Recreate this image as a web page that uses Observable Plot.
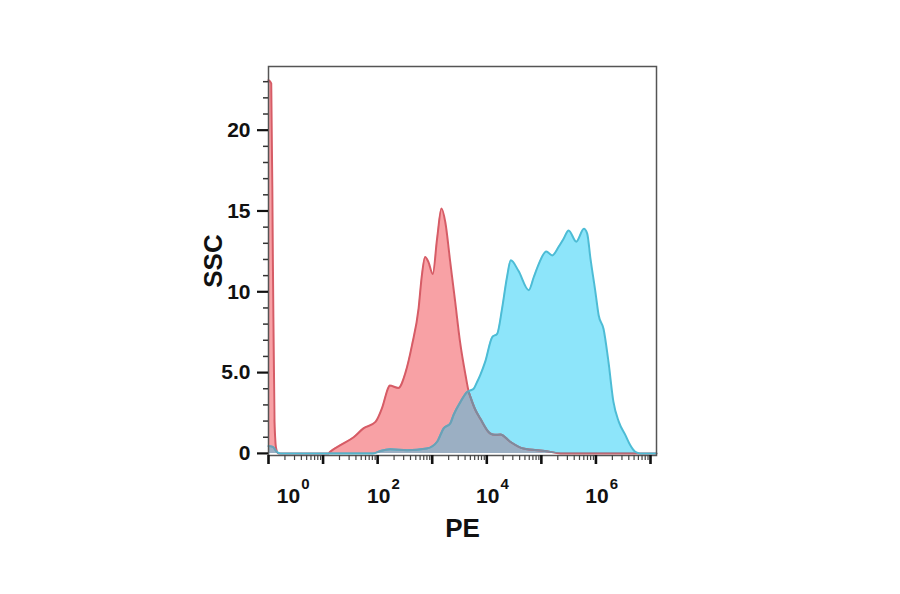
<!DOCTYPE html>
<html>
<head>
<meta charset="utf-8">
<script src="https://cdn.jsdelivr.net/npm/d3@7"></script>
<script src="https://cdn.jsdelivr.net/npm/@observablehq/plot@0.6"></script>
<style>
  html, body { margin: 0; padding: 0; background: #fff; }
  #chart { width: 900px; height: 594px; }
</style>
</head>
<body>
<div id="chart"></div>
<script>
// PE intensity, as log10 values, and SSC counts for the two histograms
const redLog = [0, 0.05, 0.08, 0.11, 0.14, 0.18, 1.10, 1.13, 1.31, 1.56, 1.74, 1.96, 2.08, 2.20, 2.22, 2.38, 2.51, 2.63, 2.75, 2.81, 2.87, 2.93, 3.01, 3.09, 3.17, 3.24, 3.33, 3.42, 3.51, 3.61, 3.67, 3.70, 3.79, 3.88, 4.06, 4.15, 4.25, 4.43, 4.67, 5.10, 5.35, 7.11];
const redVal = [23.1, 22.9, 12, 2, 0.3, 0, 0, 0.1, 0.5, 1.0, 1.55, 1.95, 2.8, 4.1, 4.2, 4.05, 5.0, 6.7, 8.96, 11.0, 12.15, 11.85, 11.1, 13.3, 15.15, 14.3, 11.85, 9.4, 6.9, 4.85, 3.8, 3.5, 2.7, 2.16, 1.24, 1.15, 1.17, 0.72, 0.3, 0.14, 0, 0];

const blueLog = [0, 0.08, 0.15, 0.22, 1.92, 2.05, 2.23, 2.54, 2.90, 3.09, 3.21, 3.33, 3.39, 3.52, 3.64, 3.70, 3.76, 3.82, 3.88, 3.97, 4.10, 4.19, 4.28, 4.37, 4.44, 4.58, 4.77, 4.86, 4.95, 5.09, 5.20, 5.32, 5.41, 5.50, 5.64, 5.78, 5.84, 5.90, 5.99, 6.05, 6.14, 6.23, 6.32, 6.42, 6.54, 6.63, 6.72, 6.81, 7.11];
const blueVal = [0.45, 0.4, 0.1, 0, 0, 0.15, 0.25, 0.2, 0.3, 0.72, 1.55, 1.85, 2.37, 3.2, 3.8, 3.9, 4.0, 4.4, 4.84, 5.66, 7.2, 7.4, 8.96, 10.9, 11.95, 11.3, 10.1, 10.9, 11.7, 12.5, 12.25, 12.8, 13.3, 13.8, 13.1, 13.9, 13.6, 12.05, 10.0, 8.55, 7.7, 5.66, 3.2, 1.95, 1.13, 0.5, 0.1, 0, 0];

// axis ticks
const yTicks = [0, 5, 10, 15, 20];
const yTickLabels = ["0", "5.0", "10", "15", "20"];
const yMinorTicks = [1,2,3,4,6,7,8,9,11,12,13,14,16,17,18,19,21,22,23];
const xDecades = [0, 1, 2, 3, 4, 5, 6, 7];
const xLabelExps = [0, 2, 4, 6];
const xTitle = "PE";
const yTitle = "SSC";

const red = redLog.map((d, i) => ({pe: Math.pow(10, d), ssc: redVal[i]}));
const blue = blueLog.map((d, i) => ({pe: Math.pow(10, d), ssc: blueVal[i]}));
const xMinor = [];
for (const k of xDecades.slice(0, -1)) for (let m = 2; m <= 9; m++) xMinor.push(m * Math.pow(10, k));

const font = "'Liberation Sans', Arial, Helvetica, sans-serif";
const txt = {fill: "#111", lineAnchor: "middle", textAnchor: "middle"};

const chart = Plot.plot({
  width: 900,
  height: 594,
  marginLeft: 268,
  marginRight: 244,
  marginTop: 66,
  marginBottom: 139,
  style: {fontFamily: font, fontWeight: "bold", fontSize: "21px", color: "#111", background: "#fff"},
  x: {type: "log", domain: [1, Math.pow(10, 7.11)]},
  y: {domain: [-0.13, 23.94]},
  marks: [
    Plot.areaY(red, {x: "pe", y: "ssc", fill: "#f8a1a5", curve: "monotone-x", ariaDescription: "red-area"}),
    Plot.areaY(blue, {x: "pe", y: "ssc", fill: "#8de5fa", curve: "monotone-x", ariaDescription: "blue-area"}),
    Plot.lineY(red, {x: "pe", y: "ssc", stroke: "#d65c66", strokeWidth: 2, curve: "monotone-x", ariaDescription: "red-line"}),
    Plot.lineY(blue, {x: "pe", y: "ssc", stroke: "#4dbcd5", strokeWidth: 2, curve: "monotone-x", ariaDescription: "blue-line"}),
    Plot.frame({stroke: "#555", strokeWidth: 1.5}),
    Plot.axisY(yMinorTicks, {tickSize: 5, strokeWidth: 1.5, stroke: "#333", tickFormat: () => "", label: null}),
    Plot.axisY(yTicks, {tickSize: 11, strokeWidth: 2.2, stroke: "#111", tickPadding: 7, fontSize: 21, tickFormat: d => yTickLabels[yTicks.indexOf(d)], label: null}),
    Plot.axisX(xMinor, {tickSize: 5, strokeWidth: 1.2, stroke: "#444", tickFormat: () => "", label: null}),
    Plot.axisX(xDecades.map(e => Math.pow(10, e)), {tickSize: 9, strokeWidth: 2.6, stroke: "#111", tickFormat: () => "", label: null}),
    Plot.text(xLabelExps.filter(e => e > 0), {...txt, x: e => Math.pow(10, e), frameAnchor: "bottom", dy: 41, dx: 1, text: () => "10", fontSize: 21}),
    Plot.text(xLabelExps.filter(e => e > 0), {...txt, x: e => Math.pow(10, e), frameAnchor: "bottom", dy: 29, dx: 18, text: e => String(e), fontSize: 15}),
    Plot.text(xLabelExps.filter(e => e === 0), {...txt, x: e => Math.pow(10, e), frameAnchor: "bottom", dy: 41, dx: 20, text: () => "10", fontSize: 21}),
    Plot.text(xLabelExps.filter(e => e === 0), {...txt, x: e => Math.pow(10, e), frameAnchor: "bottom", dy: 29, dx: 37, text: e => String(e), fontSize: 15}),
    Plot.text([xTitle], {...txt, frameAnchor: "bottom", dy: 73, text: d => d, fontSize: 26}),
    Plot.text([yTitle], {...txt, frameAnchor: "left", dx: -55, rotate: -90, text: d => d, fontSize: 26})
  ]
});

// overlap shading: reuse Plot's own area paths as clip regions
(function shadeOverlap(svg) {
  const ns = "http://www.w3.org/2000/svg";
  const g = label => svg.querySelector(`g[aria-description="${label}"]`);
  const redArea = g("red-area"), blueArea = g("blue-area");
  const redLine = g("red-line"), blueLine = g("blue-line");
  if (!redArea || !blueArea || !redLine || !blueLine) return;
  const defs = document.createElementNS(ns, "defs");
  const makeClip = (id, src) => {
    const cp = document.createElementNS(ns, "clipPath");
    cp.setAttribute("id", id);
    const p = document.createElementNS(ns, "path");
    p.setAttribute("d", src.querySelector("path").getAttribute("d"));
    cp.appendChild(p);
    defs.appendChild(cp);
  };
  makeClip("clip-red", redArea);
  makeClip("clip-blue", blueArea);
  svg.insertBefore(defs, svg.firstChild);
  const ov = blueArea.cloneNode(true);
  ov.setAttribute("fill", "#9bafc3");
  ov.setAttribute("clip-path", "url(#clip-red)");
  blueArea.after(ov);
  const rl = redLine.cloneNode(true);
  rl.setAttribute("stroke", "#7b8c9f");
  rl.setAttribute("clip-path", "url(#clip-blue)");
  redLine.after(rl);
  const bl = blueLine.cloneNode(true);
  bl.setAttribute("stroke", "#6e9fb4");
  bl.setAttribute("clip-path", "url(#clip-red)");
  blueLine.after(bl);
})(chart);

document.getElementById("chart").appendChild(chart);
</script>
</body>
</html>
